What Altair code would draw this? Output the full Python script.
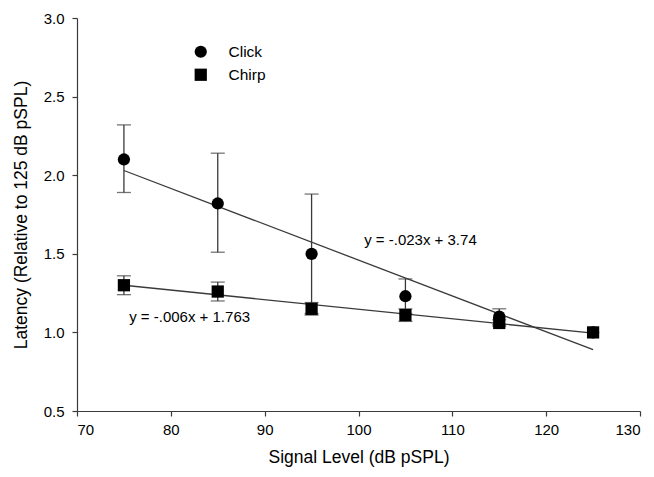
import altair as alt
import pandas as pd

levels = [75, 85, 95, 105, 115, 125]
click_mean = [2.10, 1.82, 1.50, 1.23, 1.10, 1.00]
click_lo = [1.89, 1.51, 1.12, 1.12, 1.05, 1.00]
click_hi = [2.32, 2.14, 1.88, 1.34, 1.15, 1.00]
chirp_mean = [1.30, 1.26, 1.15, 1.11, 1.06, 1.00]
chirp_lo = [1.24, 1.20, 1.11, 1.07, 1.04, 1.00]
chirp_hi = [1.36, 1.32, 1.19, 1.15, 1.08, 1.00]

fit_x = [75, 125]
click_fit = [2.03, 0.89]
chirp_fit = [1.30, 0.995]

ann_text = ["y = -.023x + 3.74", "y = -.006x + 1.763"]
ann_x = [106.6, 82.0]
ann_y = [1.585, 1.10]

rows = []
for i, lv in enumerate(levels):
    rows.append(dict(level=lv, mean=click_mean[i], lo=click_lo[i], hi=click_hi[i], stim="Click"))
for i, lv in enumerate(levels):
    rows.append(dict(level=lv, mean=chirp_mean[i], lo=chirp_lo[i], hi=chirp_hi[i], stim="Chirp"))
df = pd.DataFrame(rows)
df_err = df[df["hi"] > df["lo"]]

fit_rows = []
for i in range(2):
    fit_rows.append(dict(x=fit_x[i], y=click_fit[i], stim="Click"))
    fit_rows.append(dict(x=fit_x[i], y=chirp_fit[i], stim="Chirp"))
df_fit = pd.DataFrame(fit_rows)
df_ann = pd.DataFrame(dict(t=ann_text, x=ann_x, y=ann_y))

FONT = "Liberation Sans"
LC = "#3a3a3a"
xs = alt.Scale(domain=[70, 130], nice=False, zero=False)
ys = alt.Scale(domain=[0.5, 3.0], nice=False, zero=False)

xax = alt.Axis(values=[70, 80, 90, 100, 110, 120, 130], title="Signal Level (dB pSPL)",
               grid=False, tickSize=5, labelPadding=6, titlePadding=11)
yax = alt.Axis(values=[0.5, 1.0, 1.5, 2.0, 2.5, 3.0], format=".1f",
               title="Latency (Relative to 125 dB pSPL)", grid=False, tickSize=5,
               labelPadding=8, titlePadding=13)

lines = alt.Chart(df_fit).mark_line(color=LC, strokeWidth=1.3).encode(
    x=alt.X("x:Q", scale=xs, axis=xax),
    y=alt.Y("y:Q", scale=ys, axis=yax),
    detail="stim:N",
)

err = alt.Chart(df_err).mark_rule(color=LC, strokeWidth=1.3).encode(
    x=alt.X("level:Q", scale=xs),
    y=alt.Y("lo:Q", scale=ys),
    y2="hi:Q",
)
cap_hi = alt.Chart(df_err).mark_tick(color=LC, orient="horizontal", size=14, thickness=1.3).encode(
    x=alt.X("level:Q", scale=xs), y=alt.Y("hi:Q", scale=ys))
cap_lo = alt.Chart(df_err).mark_tick(color=LC, orient="horizontal", size=14, thickness=1.3).encode(
    x=alt.X("level:Q", scale=xs), y=alt.Y("lo:Q", scale=ys))

pts = alt.Chart(df).mark_point(filled=True, opacity=1, color="black", size=150).encode(
    x=alt.X("level:Q", scale=xs),
    y=alt.Y("mean:Q", scale=ys),
    shape=alt.Shape("stim:N", scale=alt.Scale(domain=["Click", "Chirp"], range=["circle", "square"]),
                    legend=alt.Legend(title=None, orient="none", legendX=116, legendY=26,
                                      symbolSize=150, symbolFillColor="black", symbolStrokeColor="black",
                                      labelFontSize=15.5, labelFont=FONT,
                                      labelColor="black", labelOffset=20, rowPadding=4, padding=0)),
)

ann = alt.Chart(df_ann).mark_text(font=FONT, fontSize=15, color="black").encode(
    x=alt.X("x:Q", scale=xs), y=alt.Y("y:Q", scale=ys), text="t:N")

chart = alt.layer(lines, err, cap_hi, cap_lo, pts, ann).properties(
    width=563, height=393,
    autosize=alt.AutoSizeParams(type="none"),
    padding={"left": 69, "top": 10, "right": 6, "bottom": 58},
).configure_view(stroke=None).configure_axis(
    labelFont=FONT, titleFont=FONT, labelFontSize=15, titleFontSize=17.5,
    labelColor="black", titleColor="black", titleFontWeight="normal",
    domainColor=LC, tickColor=LC, domainWidth=1.2, tickWidth=1.2,
)

chart.save("out.html", embed_options={"renderer": "svg", "actions": False})
